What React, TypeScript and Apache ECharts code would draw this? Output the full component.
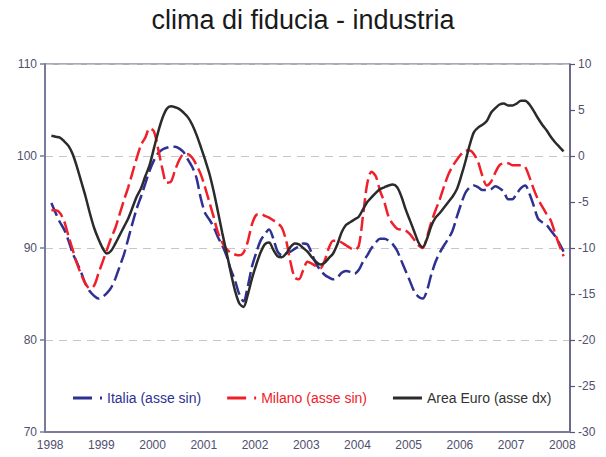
import React, { useEffect, useRef } from "react";
import * as echarts from "echarts";

// Monthly categories Jan 1998 .. Mar 2008
const startYear = 1998;
const monthCount = 123;
const months: string[] = [];
for (let i = 0; i < monthCount; i++) {
  const y = startYear + Math.floor(i / 12);
  const m = (i % 12) + 1;
  months.push(`${y}-${m < 10 ? "0" + m : m}`);
}

// Values Feb 1998 .. Feb 2008
const italia = [
  94.9, 93.8, 92.8, 92.0, 90.8, 89.4, 88.4, 87.3, 86.1, 85.3, 84.8, 84.5,
  84.7, 85.1, 85.7, 86.7, 88.0, 89.3, 91.0, 92.7, 94.3, 95.6, 97.0, 98.4,
  99.5, 100.3, 100.7, 100.9, 101.0, 101.0, 100.8, 100.4, 99.6, 98.8, 97.6, 95.4,
  93.8, 93.1, 92.3, 91.2, 90.3, 89.2, 87.7, 86.5, 85.0, 84.2, 85.8, 88.0,
  89.5, 90.8, 91.5, 92.0, 91.0, 89.6, 89.2, 89.4, 89.6, 89.9, 90.2, 90.5,
  90.4, 89.4, 88.3, 87.6, 87.1, 86.8, 86.6, 86.8, 87.3, 87.5, 87.4, 87.2,
  87.6, 88.5, 89.2, 90.0, 90.6, 91.0, 91.0, 90.8, 90.4, 89.7, 88.6, 87.5,
  86.4, 85.3, 84.7, 84.5, 85.4, 87.1, 88.5, 89.5, 90.3, 91.0, 91.9, 93.4,
  94.8, 96.0, 96.6, 96.8, 96.6, 96.3, 96.3, 96.4, 96.7, 96.5, 96.1, 95.3,
  95.3, 95.9, 96.5, 96.8, 95.9, 94.6, 93.2, 92.8, 92.5, 91.9, 91.3, 90.5,
  89.6,
];

const milano = [
  94.1, 94.1, 93.8, 92.9, 91.3, 89.8, 88.3, 87.1, 86.1, 85.6, 85.9, 87.2,
  88.5, 89.8, 91.1, 92.2, 93.7, 95.2, 96.6, 98.2, 99.8, 101.2, 102.0, 103.0,
  102.7, 100.8, 98.6, 97.1, 97.2, 98.5, 99.6, 100.2, 100.2, 99.8, 99.0, 98.0,
  96.6, 95.0, 93.4, 91.7, 90.6, 89.9, 89.5, 89.3, 89.2, 89.5, 90.7, 92.6,
  93.6, 93.7, 93.5, 93.3, 93.0, 92.7, 92.2, 90.8, 88.5, 86.8, 86.6, 87.6,
  88.5, 88.3, 88.0, 87.8, 88.6, 90.0, 90.8, 90.8, 90.6, 90.3, 90.0, 89.8,
  90.2, 93.5, 97.0, 98.3, 97.8, 96.2, 95.0, 93.4, 92.6, 92.1, 92.0, 91.9,
  91.5, 90.9, 90.3, 90.0, 91.2, 92.8, 94.1, 95.3, 96.7, 98.0, 98.9, 99.6,
  100.2, 100.6, 100.6, 100.2, 99.3, 97.8, 96.8, 97.2, 98.2, 99.0, 99.2, 99.2,
  99.0, 99.0, 99.0, 98.8, 97.7, 96.4, 95.3, 94.5, 93.7, 93.0, 91.6, 90.3,
  89.1,
];

const areaEuro = [
  2.2, 2.1, 2.0, 1.6, 1.1, 0.2, -1.2, -2.8, -4.4, -6.2, -7.8, -9.0,
  -10.0, -10.6, -10.3, -9.5, -8.6, -7.7, -6.8, -5.6, -4.4, -3.5, -2.2, -1.0,
  0.8, 2.6, 4.1, 5.1, 5.4, 5.3, 5.1, 4.7, 4.2, 3.4, 2.3, 1.0,
  -0.4, -1.9, -3.8, -6.0, -8.3, -10.4, -12.6, -14.6, -16.0, -16.4, -15.1, -13.3,
  -11.8, -10.5, -9.6, -9.4, -10.2, -10.9, -11.0, -10.6, -9.9, -9.5, -9.6, -10.0,
  -10.4, -11.0, -11.5, -11.8, -11.6, -11.1, -10.6, -9.6, -8.3, -7.5, -7.2, -6.9,
  -6.6, -5.8, -5.0, -4.5, -4.0, -3.6, -3.4, -3.2, -3.1, -3.4, -4.4, -5.8,
  -7.0, -8.2, -9.4, -9.9, -9.0, -7.6, -6.7, -6.2, -5.6, -5.0, -4.4, -3.6,
  -2.2, -0.6, 1.2, 2.6, 3.1, 3.4, 3.8, 4.7, 5.2, 5.6, 5.7, 5.5,
  5.5, 5.7, 6.0, 6.0, 5.6, 4.9, 4.1, 3.4, 2.8, 2.1, 1.5, 1.0,
  0.5,
];

const leftTicks = { min: 70, max: 110, interval: 10 };
const rightTicks = { min: -30, max: 10, interval: 5 };

const pad = (arr: number[]) => [null, ...arr, null];

const FONT = "'Liberation Sans', Arial, sans-serif";
const AXIS_TEXT = "#50506e";
const BLUE = "#2e3192";
const RED = "#f0202a";
const BLACK = "#2b2b2b";

const DASH_ICON = "path://M0,0H19V3H0Z M27,0H29V3H27Z";
const SOLID_ICON = "path://M0,0H29V3H0Z";

export default function App() {
  const ref = useRef<HTMLDivElement>(null);
  useEffect(() => {
    if (!ref.current) return;
    const chart = echarts.init(ref.current, null, { renderer: "svg" });
    const yearTick = (idx: number) => idx % 12 === 0;
    chart.setOption({
      animation: false,
      backgroundColor: "#ffffff",
      textStyle: { fontFamily: FONT },
      title: {
        text: "clima di fiducia - industria",
        left: "center",
        top: 1,
        textStyle: { fontFamily: FONT, fontSize: 27, fontWeight: "normal", color: "#1a1a1a" },
      },
      legend: {
        left: 68,
        top: 386,
        itemWidth: 29,
        itemHeight: 3,
        itemGap: 26,
        textStyle: { fontFamily: FONT, fontSize: 14 },
        data: [
          { name: "Italia (asse sin)", icon: DASH_ICON, itemStyle: { color: BLUE }, textStyle: { color: BLUE } },
          { name: "Milano (asse sin)", icon: DASH_ICON, itemStyle: { color: RED }, textStyle: { color: RED } },
          { name: "Area Euro (asse dx)", icon: SOLID_ICON, itemStyle: { color: BLACK }, textStyle: { color: "#333333" } },
        ],
      },
      grid: {
        left: 45,
        right: 36,
        top: 64,
        bottom: 25,
        show: true,
        borderColor: "#55557a",
        borderWidth: 1,
      },
      xAxis: {
        type: "category",
        data: months,
        boundaryGap: true,
        axisLine: { onZero: false, lineStyle: { color: "#7a7a9c", width: 2 } },
        axisTick: { interval: yearTick, length: 5, lineStyle: { color: "#7a7a9c", width: 1.5 } },
        axisLabel: {
          interval: yearTick,
          formatter: (v: string) => v.slice(0, 4),
          color: AXIS_TEXT,
          fontSize: 12,
          fontFamily: FONT,
          margin: 7,
          padding: [0, 0, 0, 6],
        },
        splitLine: { show: false },
      },
      yAxis: [
        {
          type: "value",
          position: "left",
          ...leftTicks,
          axisLine: { show: true, onZero: false, lineStyle: { color: "#7a7a9c", width: 2 } },
          axisTick: { show: true, length: 5, lineStyle: { color: "#7a7a9c", width: 1.5 } },
          axisLabel: { color: AXIS_TEXT, fontSize: 12, fontFamily: FONT, margin: 8 },
          splitLine: { show: true, lineStyle: { color: "#cdc5c5", type: [8, 6], width: 1.2 } },
        },
        {
          type: "value",
          position: "right",
          ...rightTicks,
          axisLine: { show: true, onZero: false, lineStyle: { color: "#55557a", width: 1.5 } },
          axisTick: { show: true, length: 5, lineStyle: { color: "#55557a", width: 1.2 } },
          axisLabel: { color: AXIS_TEXT, fontSize: 12, fontFamily: FONT, margin: 8 },
          splitLine: { show: false },
        },
      ],
      series: [
        {
          name: "Italia (asse sin)",
          type: "line",
          yAxisIndex: 0,
          data: pad(italia),
          smooth: 0.3,
          showSymbol: false,
          symbol: "none",
          color: BLUE,
          lineStyle: { color: BLUE, width: 2.5, type: [14, 5] },
          z: 3,
        },
        {
          name: "Milano (asse sin)",
          type: "line",
          yAxisIndex: 0,
          data: pad(milano),
          smooth: 0.3,
          showSymbol: false,
          symbol: "none",
          color: RED,
          lineStyle: { color: RED, width: 2.5, type: [14, 5] },
          z: 4,
        },
        {
          name: "Area Euro (asse dx)",
          type: "line",
          yAxisIndex: 1,
          data: pad(areaEuro),
          smooth: 0.3,
          showSymbol: false,
          symbol: "none",
          color: BLACK,
          lineStyle: { color: BLACK, width: 2.5 },
          z: 5,
        },
      ],
    });
    return () => chart.dispose();
  }, []);
  return <div ref={ref} style={{ width: 606, height: 457, position: "absolute", left: 0, top: 0 }} />;
}
